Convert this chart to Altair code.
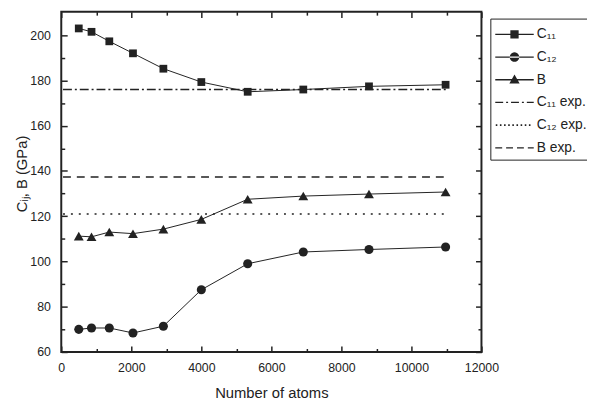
import altair as alt
import pandas as pd

# ---------------- data ----------------
atoms = [500, 864, 1372, 2048, 2916, 4000, 5324, 6912, 8788, 10976]
c11 = [203.0, 201.5, 197.3, 192.0, 185.2, 179.3, 175.0, 176.0, 177.4, 178.1]
c12 = [70.0, 70.6, 70.6, 68.4, 71.4, 87.5, 99.0, 104.2, 105.3, 106.4]
bulk = [111.2, 110.9, 113.0, 112.3, 114.3, 118.6, 127.5, 128.9, 129.8, 130.7]
series_names = ["C₁₁", "C₁₂", "B"]

exp_names = ["C₁₁ exp.", "C₁₂ exp.", "B exp."]
exp_values = [176.0, 121.0, 137.3]
exp_x_start = [50, 50, 50]
exp_x_end = [10990, 10990, 10990]

x_major = [0, 2000, 4000, 6000, 8000, 10000, 12000]
x_minor = [1000, 3000, 5000, 7000, 9000, 11000]
y_major = [60, 80, 100, 120, 140, 160, 180, 200]
y_minor = [70, 90, 110, 130, 150, 170, 190]
x_domain = [0, 12000]
y_domain = [60, 210.4]

legend_entries = series_names + exp_names

# ---------------- tables ----------------
rows = []
for name, vals in zip(series_names, [c11, c12, bulk]):
    for a, v in zip(atoms, vals):
        rows.append({"atoms": a, "value": v, "series": name})
df = pd.DataFrame(rows)

df_exp = pd.DataFrame({"name": exp_names, "value": exp_values,
                       "x0": exp_x_start, "x1": exp_x_end})
df_leg = pd.DataFrame({"entry": legend_entries,
                       "atoms": [atoms[0]] * len(legend_entries),
                       "value": [y_domain[0]] * len(legend_entries)})

# ---------------- style ----------------
FONT = "Liberation Sans"
INK = "#222222"
MAJ = 6
MIN = 3.5

xs = alt.Scale(domain=x_domain, nice=False, zero=False)
ys = alt.Scale(domain=y_domain, nice=False, zero=False)


def tick_axis(orient, values, size, **kw):
    base = dict(orient=orient, values=values, tickSize=size, offset=-size,
                domain=False, grid=False, tickColor=INK, tickWidth=1.5,
                labels=False, title=None)
    base.update(kw)
    return alt.Axis(**base)


ax_bottom_major = tick_axis(
    "bottom", x_major, MAJ, labels=True, format="d", labelFont=FONT,
    labelFontSize=12.5, labelColor=INK, labelPadding=9.5, labelFlush=False,
    title="Number of atoms", titleFont=FONT, titleFontSize=15,
    titleFontWeight="normal", titleColor=INK, titlePadding=12)
ax_left_major = tick_axis(
    "left", y_major, MAJ, labels=True, format="d", labelFont=FONT,
    labelFontSize=12.5, labelColor=INK, labelPadding=11, labelFlush=False,
    title="Cᵢⱼ, B (GPa)", titleFont=FONT, titleFontSize=15,
    titleFontWeight="normal", titleColor=INK, titlePadding=0, titleY=164)
ax_bottom_minor = tick_axis("bottom", x_minor, MIN)
ax_left_minor = tick_axis("left", y_minor, MIN)
ax_top_major = tick_axis("top", x_major, MAJ)
ax_right_major = tick_axis("right", y_major, MAJ)
ax_top_minor = tick_axis("top", x_minor, MIN)
ax_right_minor = tick_axis("right", y_minor, MIN)

# ---------------- legend symbols (custom filled paths) ----------------
R = 11.0          # symbol radius in px (symbolSize = (2R)^2)
LINE_LEN = 39.0   # px
X0 = -R           # left end of the legend line, px
TH = 0.65         # half thickness of legend lines, px


def u(px):
    return round(px / R, 4)


def rect(x0, x1, h):
    return f"M{u(x0)},{u(-h)}H{u(x1)}V{u(h)}H{u(x0)}Z"


def dash_path(pattern, h=TH):
    parts = []
    pos = 0.0
    i = 0
    while pos < LINE_LEN - 0.01:
        seg = pattern[i % len(pattern)]
        end = min(pos + seg, LINE_LEN)
        if i % 2 == 0:
            parts.append(rect(X0 + pos, X0 + end, h))
        pos = end
        i += 1
    return "".join(parts)


def dot_path(step, dot):
    parts = []
    pos = 0.5
    while pos + dot <= LINE_LEN:
        parts.append(rect(X0 + pos, X0 + pos + dot, dot / 2))
        pos += step
    return "".join(parts)


cx = X0 + LINE_LEN / 2
base_line = rect(X0, X0 + LINE_LEN, TH)
sq = 4.2
square_p = base_line + rect(cx - sq, cx + sq, sq)
cr = 4.8
circle_p = base_line + (f"M{u(cx - cr)},0a{u(cr)},{u(cr)} 0 1,0 {u(2*cr)},0"
                        f"a{u(cr)},{u(cr)} 0 1,0 {u(-2*cr)},0Z")
tw, tt, tb = 5.2, 5.4, 3.8
tri_p = base_line + f"M{u(cx)},{u(-tt)}L{u(cx + tw)},{u(tb)}L{u(cx - tw)},{u(tb)}Z"
dashdot_p = dash_path([8, 3, 2, 3])
dotted_p = dot_path(4.2, 1.6)
dashed_p = dash_path([7, 4])
legend_paths = [square_p, circle_p, tri_p, dashdot_p, dotted_p, dashed_p]

legend = alt.Legend(orient="none", legendX=435, legendY=7, title=None,
                    strokeColor=INK, fillColor="white", padding=5,
                    symbolSize=(2 * R) ** 2, symbolFillColor=INK,
                    symbolStrokeColor=INK, symbolStrokeWidth=0,
                    symbolOpacity=1, labelFont=FONT, labelFontSize=14,
                    labelColor=INK, labelOffset=20, rowPadding=5,
                    labelLimit=300)

# ---------------- layers ----------------
exp_dashes = [[9, 3, 2, 3], [2, 6], [8, 6]]
exp_layers = []
for name, dash in zip(exp_names, exp_dashes):
    exp_layers.append(
        alt.Chart(df_exp).transform_filter(alt.datum.name == name)
        .mark_rule(color=INK, strokeWidth=1.6, strokeDash=dash)
        .encode(x=alt.X("x0:Q", scale=xs, axis=None),
                x2="x1:Q",
                y=alt.Y("value:Q", scale=ys, axis=None)))

lines = alt.Chart(df).mark_line(color=INK, strokeWidth=1).encode(
    x=alt.X("atoms:Q", scale=xs, axis=ax_bottom_major),
    y=alt.Y("value:Q", scale=ys, axis=ax_left_major),
    detail="series:N")

point_shapes = ["square", "circle", "triangle-up"]
point_sizes = [62, 85, 100]
point_axes = [(ax_bottom_minor, ax_left_minor),
              (ax_top_major, ax_right_major),
              (ax_top_minor, ax_right_minor)]
point_layers = []
for name, shp, sz, (axx, axy) in zip(series_names, point_shapes, point_sizes, point_axes):
    point_layers.append(
        alt.Chart(df).transform_filter(alt.datum.series == name)
        .mark_point(shape=shp, filled=True, color=INK, size=sz, opacity=1)
        .encode(x=alt.X("atoms:Q", scale=xs, axis=axx),
                y=alt.Y("value:Q", scale=ys, axis=axy)))

legend_layer = alt.Chart(df_leg).mark_point(filled=True, color=INK, opacity=0).encode(
    x=alt.X("atoms:Q", scale=xs, axis=None),
    y=alt.Y("value:Q", scale=ys, axis=None),
    shape=alt.Shape("entry:N", scale=alt.Scale(domain=legend_entries, range=legend_paths),
                    legend=legend))

chart = alt.layer(*exp_layers, lines, *point_layers, legend_layer).resolve_axis(
    x="independent", y="independent"
).properties(
    width=426, height=345,
    autosize=alt.AutoSizeParams(type="none"),
    padding={"left": 54, "top": 1, "right": 107, "bottom": 50},
    background="white",
).configure_view(stroke=INK, strokeWidth=2)

chart.save("out.html", embed_options={"renderer": "svg", "actions": False})
